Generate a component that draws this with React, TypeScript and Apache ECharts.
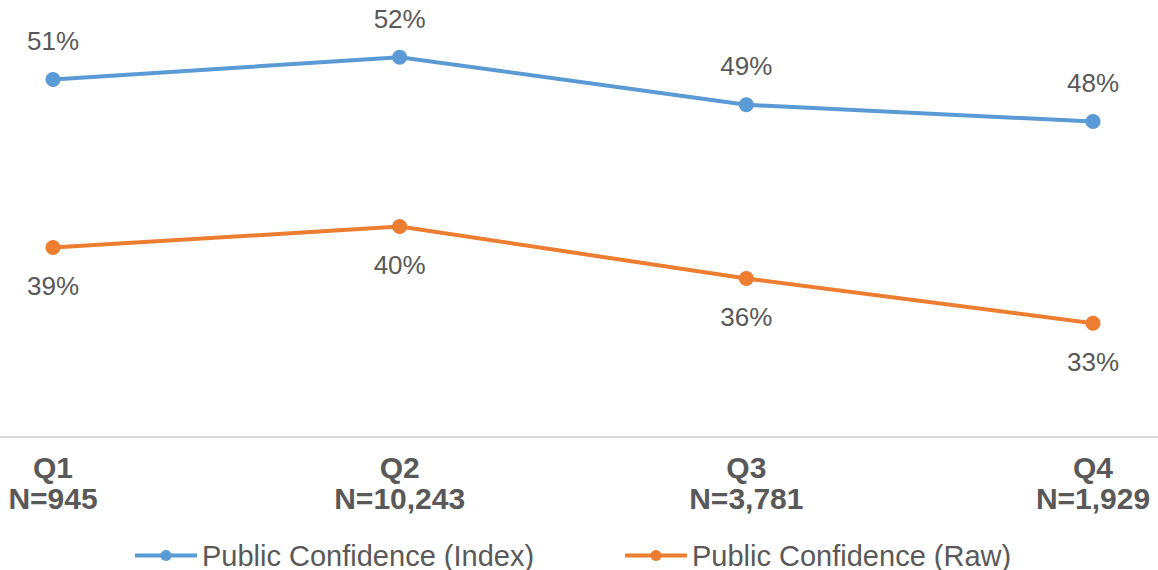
import React, { useEffect, useRef } from "react";
import * as echarts from "echarts";

const categories = ["Q1\nN=945", "Q2\nN=10,243", "Q3\nN=3,781", "Q4\nN=1,929"];
const indexValues = [50.6, 52.2, 48.8, 47.6];
const rawValues = [38.6, 40.1, 36.4, 33.2];
const seriesNames = ["Public Confidence (Index)", "Public Confidence (Raw)"];

const FONT = "'Liberation Sans', Arial, Helvetica, sans-serif";
const BLUE = "#5B9BD5";
const ORANGE = "#ED7D31";
const TEXT = "#595959";

export default function App() {
  const ref = useRef<HTMLDivElement>(null);
  useEffect(() => {
    if (!ref.current) return;
    const chart = echarts.init(ref.current, undefined, { renderer: "svg" });
    const labelFmt = (p: any) => Math.round(p.value) + "%";
    const legendCommon = {
      top: 536,
      itemWidth: 62,
      itemHeight: 14,
      lineStyle: { width: 4 },
      textStyle: { fontSize: 29, color: TEXT, fontFamily: FONT, padding: [0, 0, 0, 0] },
    };
    chart.setOption({
      animation: false,
      backgroundColor: "#ffffff",
      textStyle: { fontFamily: FONT },
      grid: { left: 53, right: 65, top: 4, bottom: 132, containLabel: false },
      xAxis: {
        type: "category",
        data: categories,
        boundaryGap: false,
        axisLine: { show: false },
        axisTick: { show: false },
        splitLine: { show: false },
        axisLabel: {
          interval: 0,
          margin: 14,
          color: TEXT,
          fontWeight: "bold",
          fontSize: 30,
          lineHeight: 31,
          fontFamily: FONT,
        },
      },
      yAxis: {
        type: "value",
        min: 25,
        max: 56,
        show: false,
        splitLine: { show: false },
      },
      legend: [
        { ...legendCommon, data: [seriesNames[0]], left: 128 },
        { ...legendCommon, data: [seriesNames[1]], left: 618 },
      ],
      graphic: [
        {
          type: "line",
          shape: { x1: 0, y1: 437, x2: 1158, y2: 437 },
          style: { stroke: "#d9d9d9", lineWidth: 2 },
          silent: true,
        },
      ],
      series: [
        {
          name: seriesNames[0],
          type: "line",
          data: indexValues,
          symbol: "circle",
          symbolSize: 15,
          lineStyle: { color: BLUE, width: 4 },
          itemStyle: { color: BLUE },
          label: {
            show: true,
            position: "top",
            distance: 18,
            formatter: labelFmt,
            color: TEXT,
            fontSize: 26,
            fontFamily: FONT,
          },
        },
        {
          name: seriesNames[1],
          type: "line",
          data: rawValues,
          symbol: "circle",
          symbolSize: 15,
          lineStyle: { color: ORANGE, width: 4 },
          itemStyle: { color: ORANGE },
          label: {
            show: true,
            position: "bottom",
            distance: 18,
            formatter: labelFmt,
            color: TEXT,
            fontSize: 26,
            fontFamily: FONT,
          },
        },
      ],
    });
    return () => chart.dispose();
  }, []);
  return (
    <div
      ref={ref}
      style={{ position: "absolute", left: 0, top: 0, width: 1158, height: 570 }}
    />
  );
}
